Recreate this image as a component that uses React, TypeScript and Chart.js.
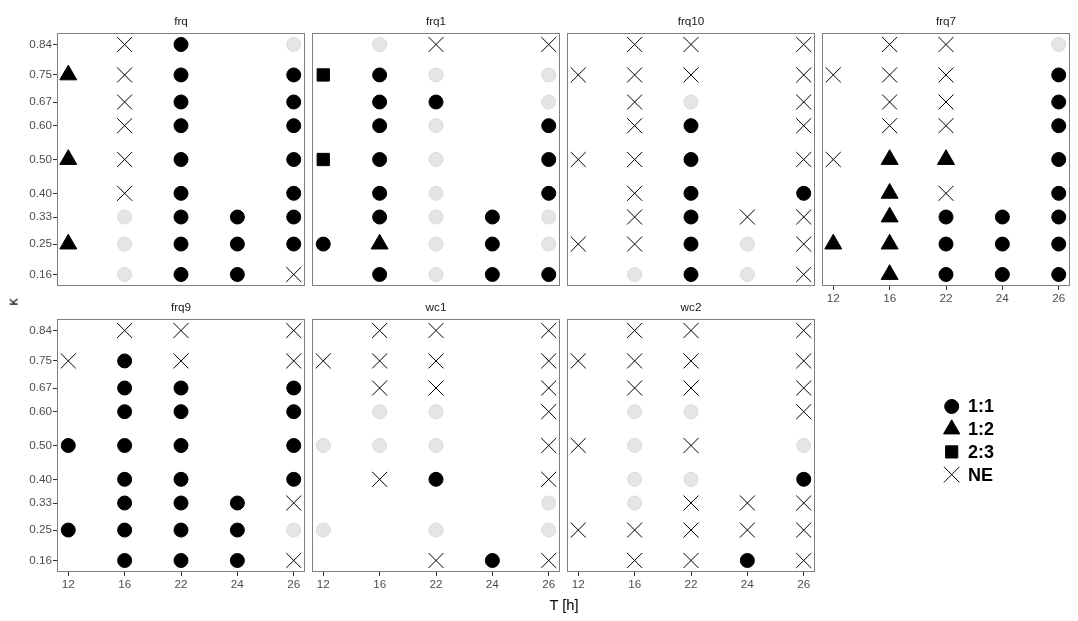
import React, { useEffect, useRef } from 'react';
import { Chart, registerables } from 'chart.js';
import { drawPoint } from 'chart.js/helpers';

Chart.register(...registerables);

// ---------- data ----------
const T_LABELS = ['12', '16', '22', '24', '26'];
const KAPPA = [0.84, 0.75, 0.67, 0.6, 0.5, 0.4, 0.33, 0.25, 0.16];
const PANEL_NAMES = ['frq', 'frq1', 'frq10', 'frq7', 'frq9', 'wc1', 'wc2'];
// one string per kappa level (top to bottom), one char per T level
// o = 1:1, g = 1:1 (grey), t = 1:2, s = 2:3, x = NE, . = none
const FRQ = ['.xo.g', 'txo.o', '.xo.o', '.xo.o', 'txo.o', '.xo.o', '.gooo', 'tgooo', '.goox'];
const FRQ1 = ['.gx.x', 'sog.g', '.oo.g', '.og.o', 'sog.o', '.og.o', '.ogog', 'otgog', '.ogoo'];
const FRQ10 = ['.xx.x', 'xxx.x', '.xg.x', '.xo.x', 'xxo.x', '.xo.o', '.xoxx', 'xxogx', '.gogx'];
const FRQ7 = ['.xx.g', 'xxx.o', '.xx.o', '.xx.o', 'xtt.o', '.tx.o', '.tooo', 'ttooo', '.tooo'];
const FRQ9 = ['.xx.x', 'xox.x', '.oo.o', '.oo.o', 'ooo.o', '.oo.o', '.ooox', 'oooog', '.ooox'];
const WC1 = ['.xx.x', 'xxx.x', '.xx.x', '.gg.x', 'ggg.x', '.xo.x', '....g', 'g.g.g', '..xox'];
const WC2 = ['.xx.x', 'xxx.x', '.xx.x', '.gg.x', 'xgx.g', '.gg.o', '.gxxx', 'xxxxx', '.xxox'];
const GRIDS = [FRQ, FRQ1, FRQ10, FRQ7, FRQ9, WC1, WC2];
const LEGEND_LABELS = ['1:1', '1:2', '2:3', 'NE'];
const LEGEND_CODES = ['o', 't', 's', 'x'];

// ---------- styles ----------
const FONT = '"Liberation Sans", Arial, Helvetica, sans-serif';
const STYLE: Record<string, any> = {
  o: { pointStyle: 'circle', radius: 7, bg: '#000000', border: '#000000', bw: 1 },
  g: { pointStyle: 'circle', radius: 7, bg: '#e5e5e5', border: '#dadada', bw: 1 },
  t: { pointStyle: 'triangle', radius: 9.8, bg: '#000000', border: '#000000', bw: 1 },
  s: { pointStyle: 'rect', radius: 8.7, bg: '#000000', border: '#000000', bw: 1 },
  x: { pointStyle: 'crossRot', radius: 10.6, bg: '#000000', border: '#000000', bw: 1 },
};
const LEGEND_STYLE: Record<string, any> = {
  o: { pointStyle: 'circle', radius: 7, bw: 1 },
  t: { pointStyle: 'triangle', radius: 9.4, bw: 1 },
  s: { pointStyle: 'rect', radius: 8.6, bw: 1 },
  x: { pointStyle: 'crossRot', radius: 11, bw: 1 },
};

const ML = 55, MR = 5, MT = 30, MB = 25;
const PW = 248, PH = 253;
const COL_STEP = 255, ROW_STEP = 286;
const LEFT0 = 57, TOP0 = 33;

const Y_LO = 0.16 - 0.05 * 0.68;
const Y_HI = 0.84 + 0.05 * 0.68;
const X_LO = -0.2, X_HI = 4.2;

const panelPlugin = {
  id: 'panelDeco',
  afterDraw(chart: any, _args: any, opts: any) {
    const { ctx, chartArea } = chart;
    const { left, top, right, bottom } = chartArea;
    ctx.save();
    ctx.strokeStyle = '#7f7f7f';
    ctx.lineWidth = 1;
    ctx.strokeRect(left + 0.5, top + 0.5, right - left - 1, bottom - top - 1);
    ctx.fillStyle = '#1a1a1a';
    ctx.font = `11.7px ${FONT}`;
    ctx.textAlign = 'center';
    ctx.textBaseline = 'middle';
    ctx.fillText(opts.title, (left + right) / 2, top - 11);
    ctx.restore();
  },
};

function Panel({ index }: { index: number }) {
  const ref = useRef<HTMLCanvasElement>(null);
  const col = index % 4;
  const row = Math.floor(index / 4);
  const showY = col === 0;
  const showX = row === 1 || index === 3;
  const W = ML + PW + MR;
  const H = MT + PH + MB;
  const left = LEFT0 + col * COL_STEP - ML;
  const top = TOP0 + row * ROW_STEP - MT;

  useEffect(() => {
    const grid = GRIDS[index];
    const datasets = Object.keys(STYLE).map((code) => {
      const pts: { x: number; y: number }[] = [];
      grid.forEach((line, ki) => {
        line.split('').forEach((c, ti) => {
          if (c === code) pts.push({ x: ti, y: KAPPA[ki] });
        });
      });
      const s = STYLE[code];
      return {
        data: pts,
        showLine: false,
        pointStyle: s.pointStyle,
        pointRadius: s.radius,
        pointHoverRadius: s.radius,
        pointBackgroundColor: s.bg,
        pointBorderColor: s.border,
        pointBorderWidth: s.bw,
      };
    });
    const tickFont = { family: FONT, size: 11.7 };
    const chart = new Chart(ref.current as HTMLCanvasElement, {
      type: 'scatter',
      data: { datasets },
      plugins: [panelPlugin],
      options: {
        animation: false,
        responsive: false,
        events: [],
        layout: {
          autoPadding: false,
          padding: { left: showY ? 0 : ML, right: MR, top: MT, bottom: showX ? 0 : MB },
        },
        plugins: {
          legend: { display: false },
          tooltip: { enabled: false },
          panelDeco: { title: PANEL_NAMES[index] },
        } as any,
        scales: {
          x: {
            type: 'linear',
            display: showX,
            min: X_LO,
            max: X_HI,
            grid: { display: true, drawOnChartArea: false, drawTicks: true, tickLength: 4, color: '#333333' },
            border: { display: false },
            ticks: {
              padding: 2,
              color: '#4d4d4d',
              font: tickFont,
              autoSkip: false,
              maxRotation: 0,
              callback: (v: any) => T_LABELS[v] ?? '',
            },
            afterBuildTicks: (s: any) => {
              s.ticks = T_LABELS.map((_, i) => ({ value: i }));
            },
            afterFit: (s: any) => {
              if (showX) s.height = MB;
              s.paddingLeft = 0;
              s.paddingRight = 0;
            },
          },
          y: {
            type: 'linear',
            display: showY,
            min: Y_LO,
            max: Y_HI,
            grid: { display: true, drawOnChartArea: false, drawTicks: true, tickLength: 4, color: '#333333' },
            border: { display: false },
            ticks: {
              padding: 1,
              color: '#4d4d4d',
              font: tickFont,
              autoSkip: false,
              callback: (v: any) => Number(v).toFixed(2),
            },
            afterBuildTicks: (s: any) => {
              s.ticks = KAPPA.map((k) => ({ value: k }));
            },
            afterFit: (s: any) => {
              if (showY) s.width = ML;
              s.paddingTop = 0;
              s.paddingBottom = 0;
            },
          },
        },
      } as any,
    });
    return () => chart.destroy();
  }, []);

  return (
    <canvas
      ref={ref}
      width={W}
      height={H}
      style={{ position: 'absolute', left, top, width: W, height: H }}
    />
  );
}

const LEG_LEFT = 925, LEG_TOP = 385, LEG_W = 120, LEG_H = 110;

const legendPlugin = {
  id: 'shapeLegend',
  afterDraw(chart: any) {
    const { ctx } = chart;
    ctx.save();
    LEGEND_LABELS.forEach((label, i) => {
      const code = LEGEND_CODES[i];
      const st = LEGEND_STYLE[code];
      const cy = 406.5 + 22.7 * i - LEG_TOP;
      const cx = 951.7 - LEG_LEFT;
      ctx.fillStyle = '#000000';
      ctx.strokeStyle = '#000000';
      ctx.lineWidth = st.bw;
      drawPoint(ctx, { pointStyle: st.pointStyle, radius: st.radius, rotation: 0, borderWidth: st.bw } as any, cx, cy);
      ctx.fillStyle = '#000000';
      ctx.font = `bold 18px ${FONT}`;
      ctx.textAlign = 'left';
      ctx.textBaseline = 'middle';
      ctx.fillText(label, 968 - LEG_LEFT, cy + 1);
    });
    ctx.restore();
  },
};

function Legend() {
  const ref = useRef<HTMLCanvasElement>(null);
  useEffect(() => {
    const chart = new Chart(ref.current as HTMLCanvasElement, {
      type: 'scatter',
      data: { datasets: [] },
      plugins: [legendPlugin],
      options: {
        animation: false,
        responsive: false,
        events: [],
        plugins: { legend: { display: false }, tooltip: { enabled: false } },
        scales: { x: { display: false }, y: { display: false } },
      } as any,
    });
    return () => chart.destroy();
  }, []);
  return (
    <canvas
      ref={ref}
      width={LEG_W}
      height={LEG_H}
      style={{ position: 'absolute', left: LEG_LEFT, top: LEG_TOP, width: LEG_W, height: LEG_H }}
    />
  );
}

export default function App() {
  return (
    <div style={{ position: 'absolute', left: 0, top: 0, width: 1078, height: 621, background: '#ffffff', overflow: 'hidden' }}>
      {PANEL_NAMES.map((_, i) => (
        <Panel key={i} index={i} />
      ))}
      <Legend />
      <div
        style={{
          position: 'absolute',
          left: 13,
          top: 302,
          transform: 'translate(-50%, -50%) rotate(-90deg)',
          fontFamily: FONT,
          fontSize: 14.7,
          color: '#000',
          lineHeight: 1,
          whiteSpace: 'nowrap',
        }}
      >
        κ
      </div>
      <div
        style={{
          position: 'absolute',
          left: 564,
          top: 605,
          transform: 'translate(-50%, -50%)',
          fontFamily: FONT,
          fontSize: 14.7,
          color: '#000',
          lineHeight: 1,
          whiteSpace: 'nowrap',
        }}
      >
        T [h]
      </div>
    </div>
  );
}
